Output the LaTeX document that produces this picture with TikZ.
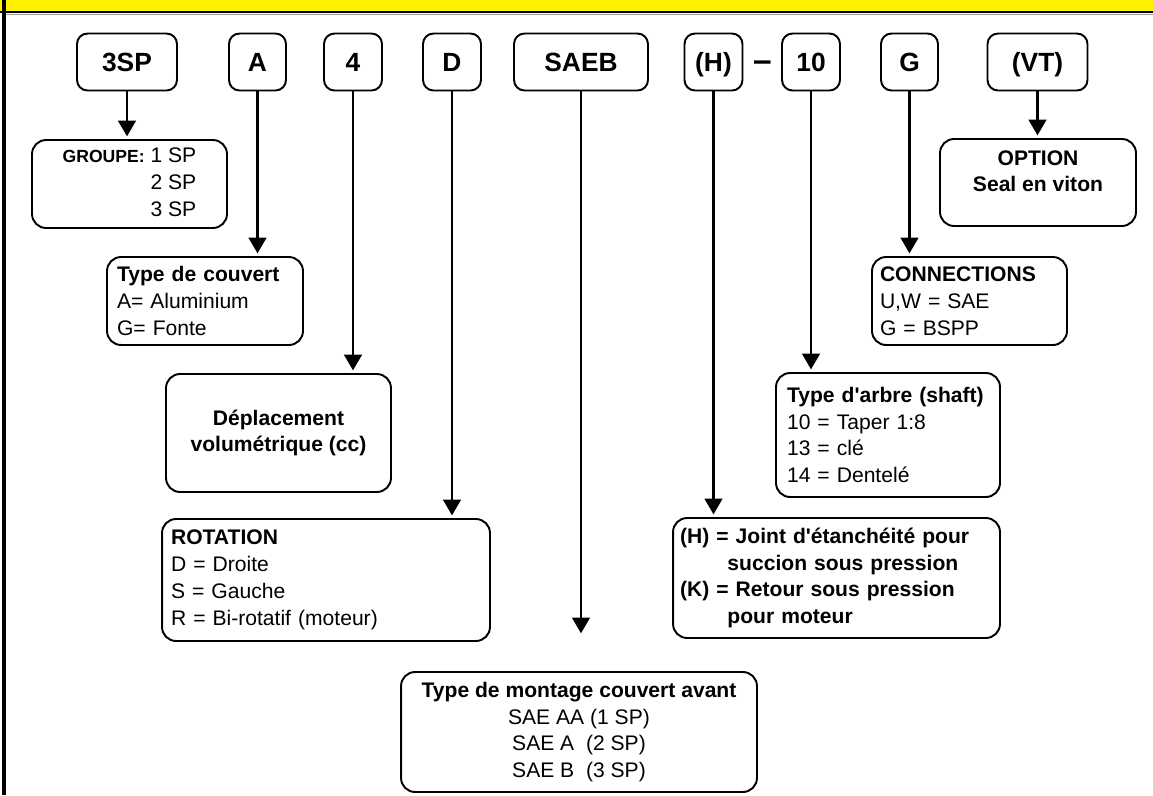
\documentclass[tikz,border=0pt]{standalone}
\usepackage{fontspec}
\setmainfont{Liberation Sans}
\usetikzlibrary{arrows.meta}
\newcommand{\apos}{\textquotesingle}

\begin{document}
\begin{tikzpicture}[x=0.02cm,y=-0.02cm,
  codebox/.style={draw,line width=1.1pt,rounded corners=6pt,minimum width=#1,minimum height=1.14cm,inner sep=0pt,text height=10.7pt,text depth=0pt,font=\fontsize{15}{18}\selectfont\bfseries},
  infobox/.style={draw,line width=1.1pt,rounded corners=8pt,inner ysep=0pt,font=\fontsize{12}{15.3}\selectfont},
  infobold/.style={infobox,font=\fontsize{12}{15.3}\selectfont\bfseries},
  arr/.style={-{Triangle[width=10pt,length=9pt]},line width=1.6pt,shorten >=1.5pt}]
\useasboundingbox (0,0) rectangle (1153,795);
% cadre
\fill[yellow] (0,0) rectangle (1153,11);
\draw[line width=1.5pt] (0,12) -- (1153,12);
\draw[black!40,line width=0.5pt] (6,14.5) -- (1153,14.5);
\draw[line width=2.3pt] (4,0) -- (4,795);
% code du modele
\path
(127,62) node[codebox=2cm] (sp) {3SP}
(257.5,62) node[codebox=1.14cm] (cov) {A}
(353,62) node[codebox=1.16cm] (disp) {4}
(452,62) node[codebox=1.16cm] (rot) {D}
(581,62) node[codebox=2.68cm] (mount) {SAEB}
(713.5,62) node[codebox=1.16cm] (seal) {(H)}
(762.5,62) node[inner sep=0pt,text height=10.7pt,text depth=0pt,font=\fontsize{19}{20}\selectfont\bfseries] (dash) {–}
(811,62) node[codebox=1.16cm] (shaft) {10}
(909.5,62) node[codebox=1.14cm] (port) {G}
(1037.5,62) node[codebox=2cm] (opt) {(VT)};
% descriptions
\path
(129.5,184) node[infobox,minimum width=3.9cm,minimum height=1.76cm] (groupe)
  {\begin{tabular}{@{}r@{ }l@{}}{\fontsize{10}{12}\selectfont\bfseries GROUPE:}&1 SP\\&2 SP\\&3 SP\end{tabular}}
(205,301) node[infobox,minimum width=3.92cm,minimum height=1.76cm,inner xsep=0.2cm,text width=3.52cm,align=left] (couvert)
  {\textbf{Type de couvert}\\A= Aluminium\\G= Fonte}
(278.5,433) node[infobold,minimum width=4.5cm,minimum height=2.36cm,align=center] (depl)
  {Déplacement\\volumétrique (cc)}
(326,580) node[infobox,minimum width=6.56cm,minimum height=2.44cm,inner xsep=0.18cm,text width=6.2cm,align=left] (rotation)
  {\textbf{ROTATION}\\D = Droite\\S = Gauche\\R = Bi-rotatif (moteur)}
(579,732) node[infobox,minimum width=7.12cm,minimum height=2.4cm,align=center] (montage)
  {\textbf{Type de montage couvert avant}\\SAE AA (1 SP)\\SAE A\ \ (2 SP)\\SAE B\ \ (3 SP)}
(836.5,578) node[infobold,minimum width=6.54cm,minimum height=2.4cm,inner xsep=0.14cm,text width=6.26cm,align=left] (joint)
  {(H) = Joint d\apos étanchéité pour\\\hspace*{2.25em}succion sous pression\\(K) = Retour sous pression\\\hspace*{2.25em}pour moteur}
(888,435) node[infobox,minimum width=4.48cm,minimum height=2.48cm,inner xsep=0.22cm,text width=4.04cm,align=left] (arbre)
  {\textbf{Type d\apos arbre (shaft)}\\10 = Taper 1:8\\13 = clé\\14 = Dentelé}
(969.5,301) node[infobox,minimum width=3.9cm,minimum height=1.76cm,inner xsep=0.16cm,text width=3.58cm,align=left] (connect)
  {\textbf{CONNECTIONS}\\U,W = SAE\\G = BSPP}
(1038,182.5) node[infobold,minimum width=3.92cm,minimum height=1.74cm,align=center] (option)
  {OPTION\\Seal en viton\\[-7pt]\strut};
\coordinate (mountend) at (581,636);
% fleches
\draw[arr] (sp) -- (groupe.north -| sp);
\draw[arr] (cov) -- (couvert.north -| cov);
\draw[arr] (disp) -- (depl.north -| disp);
\draw[arr] (rot) -- (rotation.north -| rot);
\draw[arr] (mount) -- (mountend);
\draw[arr] (seal) -- (joint.north -| seal);
\draw[arr] (shaft) -- (arbre.north -| shaft);
\draw[arr] (port) -- (connect.north -| port);
\draw[arr] (opt) -- (option.north -| opt);
\end{tikzpicture}
\end{document}
